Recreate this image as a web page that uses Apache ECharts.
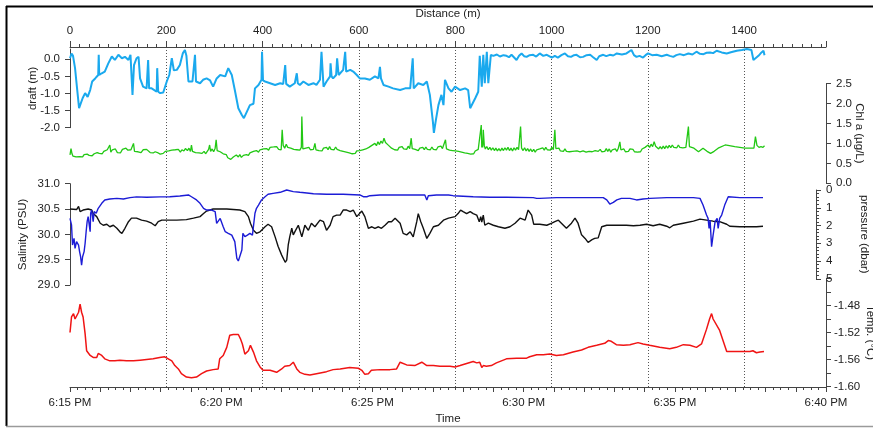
<!DOCTYPE html>
<html><head><meta charset="utf-8">
<script src="https://cdn.jsdelivr.net/npm/echarts@6/dist/echarts.min.js"></script>
<style>html,body{margin:0;padding:0;background:#fff}#c{width:873px;height:428px}</style>
</head><body><div id="c"></div>
<script>
// time values are seconds after 6:15:00 PM
const distanceTicks=[0,200,400,600,800,1000,1200,1400];
const timeTickValues=[0,300,600,900,1200,1500];
const timeTickLabels=['6:15 PM','6:20 PM','6:25 PM','6:30 PM','6:35 PM','6:40 PM'];
const draftTicks=[-2,-1.5,-1,-0.5,0];
const tempLabelTicks=[-1.60,-1.56,-1.52,-1.48];

const draftData=[[0,0.03],[3,0.17],[6,0.10],[10,-0.26],[14,-0.85],[18,-1.43],[21,-1.48],[25,-1.14],[30,-0.99],[35,-1.10],[40,-0.90],[44,-0.65],[50,-0.56],[56,-0.46],[57,0.13],[58,-0.46],[63,-0.41],[69,-0.36],[76,-0.12],[83,0.08],[89,-0.02],[96,0.13],[103,0.03],[109,0.07],[116,-0.02],[120,0.13],[124,-1.04],[127,-0.17],[132,0.03],[136,0.07],[139,-0.56],[145,-0.80],[152,-0.85],[155,-0.02],[157,-0.85],[162,-0.85],[172,-0.95],[173,-0.26],[175,-0.95],[179,-0.99],[185,-0.97],[192,-0.65],[197,-0.46],[202,0.03],[206,-0.32],[212,-0.31],[218,-0.17],[224,0.18],[228,0.27],[231,0.10],[235,-0.65],[243,-0.65],[248,0.13],[250,-0.65],[258,-0.70],[264,-0.60],[271,-0.56],[278,-0.62],[284,-0.80],[291,-0.56],[298,-0.46],[308,-0.50],[314,-0.26],[321,-0.46],[327,-0.90],[334,-1.43],[341,-1.63],[345,-1.72],[351,-1.53],[357,-1.34],[364,-1.30],[367,-0.85],[374,-0.75],[380,-0.60],[381,0.22],[383,-0.62],[387,-0.65],[397,-0.70],[407,-0.75],[417,-0.70],[423,-0.72],[427,-0.17],[429,-0.72],[436,-0.80],[446,-0.70],[450,-0.41],[452,-0.70],[456,-0.75],[463,-0.65],[473,-0.75],[483,-0.70],[489,-0.75],[496,-0.60],[499,0.22],[503,-0.80],[509,-0.65],[516,-0.50],[517,-0.12],[519,-0.50],[522,-0.56],[528,-0.46],[530,0.03],[533,-0.46],[536,-0.46],[542,-0.31],[546,0.22],[548,-0.36],[556,-0.31],[562,-0.36],[569,-0.46],[575,-0.56],[585,-0.56],[595,-0.60],[605,-0.50],[612,-0.56],[615,-0.22],[617,-0.56],[622,-0.75],[632,-0.80],[641,-0.85],[655,-0.90],[665,-0.85],[675,-0.85],[680,0.03],[682,-0.85],[684,-0.85],[691,-0.70],[701,-0.75],[708,-0.65],[714,-1.04],[720,-1.82],[722,-2.15],[726,-1.77],[731,-1.34],[737,-1.04],[741,-1.34],[744,-0.60],[751,-0.85],[757,-0.95],[764,-0.80],[774,-0.90],[784,-0.85],[790,-0.90],[794,-1.43],[797,-1.38],[804,-1.14],[810,-0.95],[813,0.10],[817,-0.80],[820,0.13],[823,-0.70],[827,0.22],[830,-0.70],[833,-0.70],[835,0.13],[840,0.10],[847,0.14],[853,0.08],[860,0.12],[866,0.10],[871,0.06],[876,0.13],[886,-0.02],[891,0.10],[896,0.17],[901,0.09],[906,0.07],[912,0.12],[919,0.13],[925,0.08],[932,0.17],[939,0.10],[946,0.13],[956,0.05],[962,0.10],[968,0.05],[975,0.12],[982,0.17],[988,0.09],[994,0.07],[1000,0.12],[1005,0.13],[1012,0.06],[1018,0.07],[1025,0.12],[1032,0.13],[1038,0.06],[1045,-0.02],[1050,0.09],[1058,0.13],[1064,0.09],[1071,0.13],[1078,0.11],[1085,0.17],[1095,0.14],[1104,0.17],[1114,0.27],[1119,0.12],[1124,0.07],[1130,0.10],[1137,0.05],[1142,0.12],[1147,0.17],[1155,0.12],[1164,0.13],[1174,0.09],[1184,0.13],[1190,0.10],[1197,0.07],[1203,0.12],[1210,0.15],[1218,0.12],[1227,0.17],[1235,0.14],[1243,0.22],[1250,0.16],[1257,0.15],[1263,0.19],[1270,0.20],[1276,0.18],[1283,0.25],[1293,0.20],[1303,0.17],[1313,0.21],[1323,0.25],[1333,0.27],[1343,0.30],[1352,0.27],[1356,-0.02],[1359,-0.05],[1366,0.10],[1372,0.20],[1376,0.25],[1378,0.12]];

const chlData=[[0,0.71],[2,0.87],[4,0.74],[6,0.68],[9,0.72],[12,0.66],[15,0.70],[19,0.67],[22,0.72],[25,0.66],[28,0.72],[31,0.68],[34,0.73],[38,0.70],[41,0.75],[44,0.69],[48,0.74],[51,0.70],[54,0.77],[58,0.75],[61,0.80],[64,0.74],[67,0.80],[70,0.76],[74,0.84],[77,0.83],[79,0.96],[81,0.78],[84,0.84],[87,0.79],[90,0.86],[94,0.77],[97,0.82],[100,0.76],[104,0.85],[107,0.80],[111,0.88],[115,0.83],[118,0.78],[121,0.84],[124,0.80],[126,1.00],[128,0.80],[131,0.85],[135,0.79],[138,0.83],[141,0.77],[145,0.84],[148,0.79],[152,0.85],[155,0.81],[159,0.77],[162,0.80],[165,0.76],[169,0.79],[172,0.74],[175,0.76],[179,0.73],[182,0.78],[185,0.75],[189,0.80],[192,0.76],[196,0.81],[199,0.77],[202,0.83],[205,0.78],[209,0.84],[212,0.79],[215,0.85],[219,0.78],[222,0.84],[226,0.81],[229,0.87],[233,0.82],[236,0.88],[239,0.80],[241,0.96],[243,0.80],[246,0.84],[249,0.77],[252,0.82],[256,0.76],[259,0.81],[262,0.75],[266,0.80],[269,0.74],[272,0.79],[275,0.85],[277,0.96],[279,0.80],[282,0.86],[285,0.79],[288,0.88],[290,1.09],[292,0.82],[295,0.86],[298,0.79],[301,0.83],[304,0.74],[307,0.70],[310,0.72],[313,0.64],[316,0.68],[319,0.60],[321,0.58],[324,0.66],[327,0.62],[330,0.71],[334,0.66],[337,0.72],[340,0.65],[344,0.70],[347,0.66],[350,0.72],[354,0.70],[357,0.76],[360,0.73],[364,0.80],[367,0.76],[370,0.82],[374,0.78],[377,0.84],[380,0.80],[384,0.86],[387,0.82],[390,0.87],[394,0.83],[397,0.90],[400,0.85],[404,0.91],[407,0.86],[410,0.92],[414,0.85],[417,0.90],[419,0.84],[421,1.34],[423,0.95],[426,0.88],[429,0.98],[432,0.90],[435,0.95],[438,0.88],[441,0.93],[444,0.85],[447,0.90],[450,0.84],[453,0.89],[456,0.83],[459,0.90],[460,1.67],[462,0.86],[465,0.82],[468,0.88],[471,0.83],[474,0.90],[477,0.84],[480,0.89],[483,0.85],[486,1.00],[488,0.84],[491,0.88],[494,0.82],[497,0.87],[500,0.81],[503,0.88],[506,0.83],[509,0.90],[512,0.84],[515,0.92],[518,0.85],[521,0.90],[524,0.84],[527,0.91],[530,0.85],[533,0.88],[536,0.82],[539,0.87],[542,0.80],[545,0.85],[548,0.78],[551,0.83],[554,0.76],[557,0.80],[560,0.74],[563,0.79],[566,0.75],[569,0.81],[572,0.76],[575,0.82],[578,0.77],[581,0.84],[584,0.79],[587,0.86],[590,0.82],[593,0.90],[596,0.86],[599,0.95],[602,0.92],[605,1.00],[608,0.94],[611,1.04],[614,0.97],[617,1.06],[620,1.00],[623,1.13],[626,1.02],[629,1.06],[632,0.95],[635,0.98],[638,0.88],[641,0.92],[644,0.84],[647,0.89],[650,0.83],[653,0.90],[656,0.85],[659,0.92],[662,0.86],[665,0.91],[668,0.85],[671,0.93],[674,0.87],[677,1.13],[679,0.87],[682,0.92],[685,0.85],[688,0.90],[691,0.82],[694,0.88],[697,0.83],[700,0.90],[703,0.84],[706,0.91],[709,0.85],[712,0.90],[715,0.84],[718,0.91],[721,0.85],[724,0.90],[727,0.84],[730,0.91],[733,0.86],[736,0.93],[739,0.87],[742,0.92],[745,1.09],[747,0.86],[750,0.90],[753,0.83],[756,0.88],[759,0.82],[762,0.87],[765,0.81],[768,0.86],[771,0.80],[774,0.85],[777,0.78],[780,0.83],[783,0.76],[786,0.81],[789,0.75],[792,0.80],[795,0.73],[798,0.78],[801,0.74],[804,0.81],[807,0.77],[810,0.85],[813,0.80],[816,1.46],[817,0.90],[818,1.00],[819,0.90],[820,1.34],[822,0.95],[824,0.86],[827,0.92],[830,0.84],[833,0.90],[836,0.83],[839,0.89],[842,0.82],[845,0.88],[848,0.81],[851,0.87],[854,0.81],[857,0.88],[860,0.82],[863,0.89],[866,0.83],[869,0.90],[872,0.82],[875,0.88],[878,0.81],[881,0.89],[884,0.83],[887,0.90],[890,0.84],[893,0.88],[894,1.42],[896,0.88],[899,0.82],[902,0.89],[905,0.81],[908,0.87],[911,0.80],[914,0.86],[917,0.79],[920,0.85],[923,0.78],[926,0.84],[929,0.79],[932,0.86],[935,0.81],[938,0.89],[941,0.83],[944,0.90],[947,0.84],[950,0.89],[953,0.83],[956,0.90],[959,0.84],[962,1.34],[964,0.87],[967,0.82],[970,0.88],[973,0.81],[976,0.86],[979,0.80],[982,0.86],[985,0.80],[988,0.85],[991,0.79],[994,0.84],[997,0.80],[1000,0.83],[1006,0.81],[1012,0.79],[1018,0.81],[1024,0.78],[1030,0.80],[1036,0.79],[1042,0.82],[1048,0.80],[1052,0.85],[1055,0.79],[1058,0.84],[1061,0.80],[1064,0.87],[1067,0.80],[1070,0.86],[1073,0.78],[1076,0.84],[1079,0.79],[1082,0.86],[1085,0.80],[1088,0.88],[1091,1.04],[1093,0.84],[1096,0.80],[1099,0.86],[1102,0.79],[1105,0.84],[1108,0.80],[1111,0.86],[1114,0.81],[1117,0.85],[1120,0.79],[1123,0.84],[1126,0.78],[1129,0.83],[1132,0.79],[1135,0.86],[1138,0.82],[1141,0.90],[1144,0.86],[1147,0.96],[1150,0.90],[1153,0.98],[1156,0.92],[1159,1.04],[1162,0.93],[1165,0.90],[1168,0.86],[1171,0.92],[1174,0.86],[1177,0.93],[1180,0.87],[1183,0.94],[1186,0.88],[1189,0.95],[1192,0.89],[1195,0.96],[1198,0.90],[1201,0.95],[1204,0.89],[1207,0.96],[1210,0.90],[1213,0.95],[1216,0.89],[1219,0.94],[1222,0.90],[1225,0.95],[1227,1.42],[1229,0.92],[1238,0.88],[1247,0.79],[1256,0.88],[1264,0.80],[1271,0.75],[1278,0.80],[1286,0.88],[1300,0.96],[1319,0.92],[1339,0.88],[1357,0.88],[1360,1.17],[1363,0.95],[1367,0.90],[1371,0.92],[1375,0.90],[1378,0.94]];

const salinityData=[[0,30.50],[13,30.49],[17,30.55],[20,30.45],[26,30.48],[36,30.50],[43,30.48],[46,30.41],[53,30.35],[60,30.22],[66,30.18],[73,30.20],[79,30.15],[86,30.18],[93,30.12],[99,30.05],[103,30.02],[109,30.12],[116,30.25],[122,30.32],[132,30.32],[142,30.28],[152,30.26],[162,30.22],[169,30.17],[175,30.25],[182,30.28],[192,30.28],[212,30.28],[231,30.29],[245,30.32],[258,30.35],[265,30.41],[271,30.46],[278,30.48],[284,30.50],[298,30.50],[311,30.50],[324,30.49],[337,30.48],[347,30.45],[354,30.35],[358,30.22],[364,30.08],[370,30.02],[377,30.05],[387,30.15],[393,30.20],[400,30.15],[407,29.95],[413,29.76],[420,29.59],[427,29.45],[430,29.49],[433,29.79],[436,29.95],[440,30.12],[443,29.99],[446,30.05],[453,30.18],[460,29.95],[466,30.18],[473,30.08],[479,30.22],[486,30.15],[496,30.28],[503,30.25],[509,30.08],[516,30.18],[522,30.35],[529,30.38],[536,30.38],[542,30.48],[549,30.48],[556,30.45],[562,30.48],[569,30.35],[572,30.32],[579,30.46],[585,30.35],[592,30.12],[599,30.15],[605,30.12],[612,30.15],[618,30.12],[625,30.18],[632,30.25],[638,30.25],[645,30.32],[655,30.22],[661,30.02],[668,29.99],[675,30.05],[681,29.95],[688,30.25],[691,30.41],[696,30.25],[701,30.12],[708,29.92],[714,30.02],[721,30.15],[731,30.18],[741,30.28],[751,30.32],[764,30.35],[770,30.41],[775,30.48],[780,30.45],[787,30.41],[794,30.45],[800,30.41],[807,30.38],[812,30.25],[815,30.35],[817,30.24],[820,30.38],[823,30.18],[830,30.22],[840,30.18],[850,30.15],[863,30.12],[873,30.15],[883,30.22],[893,30.32],[903,30.28],[909,30.48],[916,30.38],[920,30.20],[932,30.20],[946,30.18],[956,30.22],[962,30.25],[969,30.28],[979,30.18],[985,30.12],[995,30.22],[1002,30.32],[1008,30.22],[1015,29.99],[1022,29.92],[1028,29.84],[1035,29.89],[1041,29.92],[1048,29.93],[1055,30.15],[1065,30.18],[1078,30.18],[1091,30.18],[1104,30.18],[1118,30.17],[1131,30.18],[1144,30.20],[1157,30.17],[1170,30.20],[1184,30.16],[1190,30.13],[1197,30.18],[1217,30.22],[1237,30.26],[1250,30.30],[1263,30.28],[1276,30.26],[1289,30.25],[1303,30.20],[1309,30.16],[1329,30.15],[1349,30.15],[1362,30.15],[1375,30.16]];

const pressureData=[[0,1.60],[3,1.97],[5,3.10],[8,2.72],[10,3.29],[13,2.91],[17,3.10],[19,3.47],[21,3.76],[23,4.23],[25,3.76],[28,3.47],[30,3.00],[32,2.35],[34,1.78],[36,1.50],[40,2.35],[41,1.31],[43,1.13],[46,1.78],[48,1.22],[52,1.31],[56,1.03],[63,0.75],[69,0.56],[79,0.51],[93,0.47],[106,0.51],[119,0.43],[132,0.39],[152,0.41],[179,0.39],[198,0.38],[218,0.34],[235,0.28],[241,0.38],[251,0.56],[258,0.75],[265,1.03],[271,1.13],[281,1.13],[288,1.22],[291,1.88],[294,1.78],[298,1.60],[301,1.69],[304,2.07],[308,2.35],[314,2.44],[321,2.54],[327,2.91],[331,3.85],[334,4.00],[337,3.94],[341,3.38],[343,2.44],[347,2.63],[352,2.54],[357,2.44],[362,2.54],[367,1.31],[370,1.03],[374,0.85],[380,0.56],[387,0.38],[393,0.24],[403,0.19],[417,0.13],[430,0.00],[443,0.09],[456,0.13],[470,0.17],[483,0.21],[509,0.24],[542,0.24],[575,0.28],[582,0.38],[585,0.47],[589,0.38],[595,0.32],[615,0.28],[641,0.28],[675,0.28],[704,0.28],[708,0.56],[711,0.32],[727,0.28],[751,0.28],[760,0.32],[800,0.38],[833,0.41],[866,0.41],[919,0.43],[926,0.47],[932,0.47],[965,0.43],[998,0.43],[1032,0.43],[1058,0.43],[1065,0.56],[1071,0.79],[1078,0.70],[1085,0.56],[1094,0.47],[1111,0.47],[1124,0.56],[1137,0.51],[1151,0.47],[1184,0.43],[1237,0.43],[1250,0.47],[1256,0.85],[1263,1.41],[1266,1.60],[1268,2.16],[1270,1.69],[1273,3.19],[1276,2.54],[1280,1.78],[1284,1.60],[1286,2.16],[1289,1.60],[1293,1.41],[1299,0.85],[1306,0.38],[1329,0.43],[1356,0.43],[1375,0.43]];

const tempData=[[0,-1.520],[3,-1.497],[7,-1.492],[10,-1.500],[13,-1.500],[17,-1.490],[20,-1.478],[23,-1.490],[26,-1.497],[30,-1.522],[33,-1.547],[40,-1.554],[46,-1.557],[53,-1.557],[56,-1.551],[63,-1.554],[69,-1.559],[79,-1.562],[89,-1.562],[99,-1.561],[112,-1.562],[126,-1.562],[139,-1.561],[152,-1.560],[165,-1.559],[178,-1.557],[188,-1.556],[195,-1.559],[202,-1.562],[208,-1.569],[215,-1.574],[221,-1.581],[231,-1.586],[241,-1.587],[251,-1.586],[261,-1.581],[271,-1.577],[284,-1.575],[294,-1.574],[297,-1.559],[304,-1.554],[311,-1.542],[317,-1.524],[324,-1.523],[334,-1.523],[338,-1.529],[342,-1.537],[347,-1.552],[354,-1.547],[358,-1.539],[364,-1.549],[370,-1.562],[377,-1.571],[383,-1.576],[397,-1.576],[410,-1.579],[420,-1.574],[426,-1.570],[436,-1.569],[443,-1.564],[450,-1.574],[456,-1.579],[466,-1.582],[476,-1.583],[489,-1.581],[509,-1.578],[522,-1.575],[536,-1.574],[555,-1.572],[572,-1.573],[579,-1.576],[585,-1.582],[592,-1.581],[598,-1.576],[615,-1.575],[635,-1.575],[648,-1.574],[655,-1.564],[668,-1.568],[684,-1.569],[698,-1.564],[708,-1.569],[721,-1.569],[734,-1.570],[754,-1.570],[764,-1.571],[774,-1.569],[787,-1.566],[800,-1.563],[807,-1.565],[813,-1.564],[817,-1.572],[820,-1.569],[826,-1.570],[836,-1.569],[846,-1.565],[856,-1.562],[866,-1.559],[886,-1.558],[906,-1.558],[912,-1.556],[926,-1.553],[939,-1.553],[952,-1.552],[965,-1.554],[979,-1.553],[998,-1.549],[1015,-1.546],[1028,-1.542],[1045,-1.539],[1061,-1.536],[1068,-1.532],[1074,-1.533],[1084,-1.538],[1098,-1.539],[1111,-1.538],[1127,-1.535],[1137,-1.537],[1150,-1.539],[1170,-1.542],[1190,-1.544],[1203,-1.542],[1217,-1.538],[1230,-1.539],[1243,-1.542],[1253,-1.537],[1263,-1.515],[1269,-1.500],[1273,-1.492],[1276,-1.500],[1289,-1.517],[1303,-1.548],[1322,-1.548],[1349,-1.548],[1355,-1.547],[1362,-1.550],[1369,-1.549],[1377,-1.548]];

const FONT='"Liberation Sans", Arial, sans-serif';
const AX='#444';
const TXT='#222';
const FS=11.5;
const L=70, R=47;

function hiddenX(i){return {type:'value',gridIndex:i,min:0,max:1500,show:false};}
function yAx(o){
  return Object.assign({
    type:'value',
    axisLine:{show:true,onZero:false,lineStyle:{color:AX,width:1}},
    axisTick:{show:true,length:5,lineStyle:{color:AX}},
    axisLabel:{margin:10,color:TXT,fontSize:FS,fontFamily:FONT},
    splitLine:{show:false},
    nameLocation:'middle',
    nameMoveOverlap:false,
    nameTextStyle:{color:TXT,fontSize:FS,fontFamily:FONT}
  },o);
}
function grid(top,height){return {left:L,right:R,top:top,height:height,containLabel:false,outerBoundsMode:'none'};}

const option={
  animation:false,
  backgroundColor:'#fff',
  textStyle:{fontFamily:FONT},
  grid:[grid(47,340),grid(49,78.7),grid(83.5,99.8),grid(183.7,101.3),grid(190,88.75),grid(278.5,108)],
  xAxis:[
    {type:'value',gridIndex:0,position:'top',min:0,max:1570,interval:200,
     name:'Distance (m)',nameLocation:'middle',nameGap:27,nameMoveOverlap:false,
     nameTextStyle:{color:TXT,fontSize:FS,fontFamily:FONT},
     axisLine:{show:true,onZero:false,lineStyle:{color:AX}},
     axisTick:{show:true,length:6,lineStyle:{color:AX}},
     minorTick:{show:true,splitNumber:10,length:3,lineStyle:{color:AX}},
     axisLabel:{customValues:distanceTicks,margin:10,color:TXT,fontSize:FS,fontFamily:FONT,
       formatter:function(v){return String(Math.round(v));}},
     splitLine:{show:true,showMinLine:false,showMaxLine:false,lineStyle:{color:'#555',type:[1,2],width:1}}},
    {type:'value',gridIndex:0,position:'bottom',min:0,max:1500,interval:60,
     name:'Time',nameLocation:'middle',nameGap:26,nameMoveOverlap:false,
     nameTextStyle:{color:TXT,fontSize:FS,fontFamily:FONT},
     axisLine:{show:true,onZero:false,lineStyle:{color:AX}},
     axisTick:{show:true,length:5,lineStyle:{color:AX}},
     minorTick:{show:true,splitNumber:4,length:3,lineStyle:{color:AX}},
     axisLabel:{customValues:timeTickValues,margin:10,color:TXT,fontSize:FS,fontFamily:FONT,
       formatter:function(v){const i=timeTickValues.indexOf(Math.round(v));return i>=0?timeTickLabels[i]:'';}},
     splitLine:{show:false}},
    hiddenX(1),hiddenX(2),hiddenX(3),hiddenX(4),hiddenX(5)
  ],
  yAxis:[
    {type:'value',gridIndex:0,min:0,max:1,show:false},
    yAx({gridIndex:1,position:'left',min:-2,max:0.3,interval:0.5,name:'draft (m)',nameGap:31,
      axisTick:{show:true,length:5,customValues:draftTicks,lineStyle:{color:AX}},
      axisLabel:{customValues:draftTicks,margin:10,color:TXT,fontSize:FS,fontFamily:FONT,formatter:v=>v.toFixed(1)}}),
    yAx({gridIndex:2,position:'right',min:0,max:2.5,interval:0.5,name:'Chl a (µg/L)',nameGap:27,nameRotate:-90,
      axisLabel:{margin:10,color:TXT,fontSize:FS,fontFamily:FONT,formatter:v=>v.toFixed(1)}}),
    yAx({gridIndex:3,position:'left',min:29,max:31,interval:0.5,name:'Salinity (PSU)',nameGap:41,
      axisLabel:{margin:10,color:TXT,fontSize:FS,fontFamily:FONT,formatter:v=>v.toFixed(1)}}),
    yAx({gridIndex:4,position:'right',offset:-10,inverse:true,min:0,max:5,interval:1,name:'pressure (dbar)',nameGap:42,nameRotate:-90,
      minorTick:{show:true,splitNumber:5,length:3,lineStyle:{color:AX}},
      axisLabel:{margin:10,color:TXT,fontSize:FS,fontFamily:FONT}}),
    yAx({gridIndex:5,position:'right',min:-1.60,max:-1.44,interval:0.02,name:'Temp. (°C)',nameGap:38,nameRotate:-90,
      axisLabel:{customValues:tempLabelTicks,margin:8,color:TXT,fontSize:FS,fontFamily:FONT,formatter:v=>v.toFixed(2)}})
  ],
  series:[
    {type:'line',name:'draft',xAxisIndex:2,yAxisIndex:1,data:draftData,showSymbol:false,symbol:'none',clip:false,
     lineStyle:{color:'#1AA9EE',width:2},z:3},
    {type:'line',name:'chl',xAxisIndex:3,yAxisIndex:2,data:chlData,showSymbol:false,symbol:'none',clip:false,
     lineStyle:{color:'#22C814',width:1.3},z:2},
    {type:'line',name:'salinity',xAxisIndex:4,yAxisIndex:3,data:salinityData,showSymbol:false,symbol:'none',clip:false,
     lineStyle:{color:'#111111',width:1.4},z:3},
    {type:'line',name:'pressure',xAxisIndex:5,yAxisIndex:4,data:pressureData,showSymbol:false,symbol:'none',clip:false,
     lineStyle:{color:'#1C1CD6',width:1.4},z:3},
    {type:'line',name:'temp',xAxisIndex:6,yAxisIndex:5,data:tempData,showSymbol:false,symbol:'none',clip:false,
     lineStyle:{color:'#F01414',width:1.5},z:3}
  ],
  graphic:[
    {type:'line',silent:true,shape:{x1:6,y1:6.5,x2:873,y2:6.5},style:{stroke:'#000',lineWidth:2}},
    {type:'line',silent:true,shape:{x1:6.5,y1:6,x2:6.5,y2:426},style:{stroke:'#000',lineWidth:2}},
    {type:'line',silent:true,shape:{x1:6,y1:426.5,x2:873,y2:426.5},style:{stroke:'#9a9a9a',lineWidth:1.5}}
  ]
};
const chart=echarts.init(document.getElementById('c'),null,{renderer:'canvas'});
chart.setOption(option);
</script></body></html>
